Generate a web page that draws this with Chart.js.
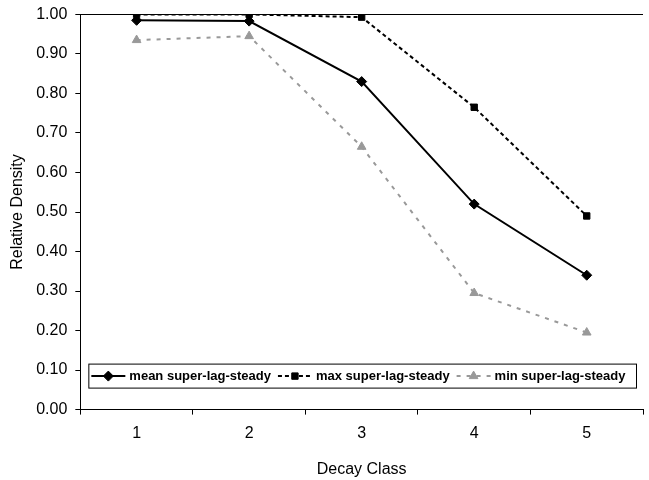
<!DOCTYPE html>
<html>
<head>
<meta charset="utf-8">
<script src="https://cdn.jsdelivr.net/npm/chart.js@4/dist/chart.umd.min.js"></script>
<style>
  body { margin: 0; background: #fff; }
  #wrap { width: 649px; height: 480px; }
</style>
</head>
<body>
<div id="wrap"><canvas id="graphique"></canvas></div>
<script>
// Données
var classes = ["1", "2", "3", "4", "5"];
var moyenne = [0.985, 0.983, 0.83, 0.52, 0.34];
var maximum = [1.0, 1.0, 0.993, 0.765, 0.49];
var minimum = [0.935, 0.945, 0.665, 0.295, 0.195];
var nomsSeries = ["mean super-lag-steady", "max super-lag-steady", "min super-lag-steady"];

var police = "'Liberation Sans', Arial, sans-serif";

// Légende encadrée dessinée dans la zone du graphique
var legendeEncadree = {
  id: "legendeEncadree",
  afterDraw: function(chart) {
    var ctx = chart.ctx;
    var zone = chart.chartArea;
    var x0 = zone.left + 8, x1 = 636;
    var y0 = zone.bottom - 46, y1 = zone.bottom - 22;
    ctx.save();
    ctx.fillStyle = "#fff";
    ctx.fillRect(x0, y0, x1 - x0, y1 - y0);
    ctx.strokeStyle = "#000";
    ctx.lineWidth = 1;
    ctx.setLineDash([]);
    ctx.strokeRect(x0 + 0.5, y0 + 0.5, x1 - x0, y1 - y0);
    ctx.font = "bold 13px " + police;
    ctx.textBaseline = "middle";
    var yc = (y0 + y1) / 2 + 0.5;
    var x = x0 + 3;
    chart.data.datasets.forEach(function(ds) {
      ctx.strokeStyle = ds.borderColor;
      ctx.lineWidth = ds.borderWidth;
      ctx.setLineDash(ds.borderDash || []);
      ctx.beginPath();
      ctx.moveTo(x, yc);
      ctx.lineTo(x + 34, yc);
      ctx.stroke();
      ctx.setLineDash([]);
      ctx.fillStyle = ds.borderColor;
      ctx.lineWidth = 1;
      Chart.helpers.drawPoint(ctx, {
        pointStyle: ds.pointStyle, radius: ds.pointRadius, rotation: 0, borderWidth: 1
      }, x + 17, yc);
      ctx.fillStyle = "#000";
      ctx.fillText(ds.label, x + 38, yc);
      x += 38 + ctx.measureText(ds.label).width + 7;
    });
    ctx.restore();
  }
};

function serie(nom, valeurs, couleur, tirets, forme, rayon) {
  return {
    label: nom,
    data: valeurs,
    borderColor: couleur,
    backgroundColor: couleur,
    pointBackgroundColor: couleur,
    pointBorderColor: couleur,
    borderWidth: 2,
    borderDash: tirets,
    pointStyle: forme,
    pointRadius: rayon,
    pointBorderWidth: 1,
    tension: 0,
    fill: false
  };
}

var ctx = document.getElementById("graphique").getContext("2d");
var chart = new Chart(ctx, {
  type: "line",
  data: {
    labels: classes,
    datasets: [
      serie(nomsSeries[0], moyenne, "#000", [], "rectRot", 5),
      serie(nomsSeries[1], maximum, "#000", [4, 3], "rect", 4.5),
      serie(nomsSeries[2], minimum, "#999", [4, 6], "triangle", 5)
    ]
  },
  options: {
    responsive: true,
    maintainAspectRatio: false,
    animation: false,
    layout: { padding: { top: 0, right: 0, left: 8, bottom: 1 } },
    plugins: {
      legend: { display: false },
      tooltip: { enabled: false }
    },
    scales: {
      x: {
        offset: true,
        grid: {
          offset: true,
          color: "transparent",
          tickColor: "#000",
          tickLength: 5,
          drawOnChartArea: false
        },
        border: { color: "#000", width: 1 },
        ticks: { color: "#000", font: { family: police, size: 16 }, padding: 9 },
        title: {
          display: true,
          text: "Decay Class",
          color: "#000",
          font: { family: police, size: 16 },
          padding: { top: 8, bottom: 0 }
        }
      },
      y: {
        min: 0,
        max: 1,
        grid: {
          color: function(c) { return c.tick && c.tick.value === 1 ? "#000" : "transparent"; },
          tickColor: "#000",
          tickLength: 5
        },
        border: { color: "#000", width: 1 },
        ticks: {
          stepSize: 0.1,
          color: "#000",
          font: { family: police, size: 16, lineHeight: 0.8 },
          padding: 8,
          callback: function(v) { return Number(v).toFixed(2); }
        },
        title: {
          display: true,
          text: "Relative Density",
          color: "#000",
          font: { family: police, size: 16 },
          padding: { top: 0, bottom: 1 }
        }
      }
    }
  },
  plugins: [legendeEncadree]
});
</script>
</body>
</html>
